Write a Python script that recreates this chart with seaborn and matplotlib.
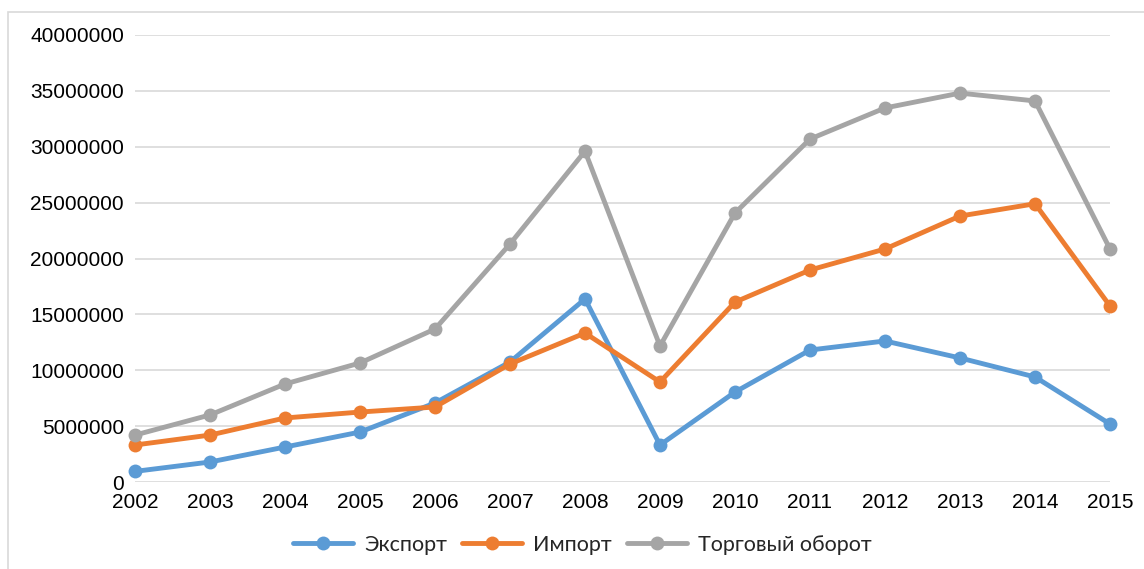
import matplotlib
matplotlib.use('Agg')
import matplotlib.pyplot as plt
import seaborn as sns
import pandas as pd
from matplotlib.patches import Rectangle
from matplotlib.ticker import MultipleLocator

# Values
years = [2002, 2003, 2004, 2005, 2006, 2007, 2008, 2009, 2010, 2011, 2012, 2013, 2014, 2015]
export_vals = [950000, 1790000, 3130000, 4470000, 7070000, 10740000, 16380000,
               3310000, 8050000, 11810000, 12620000, 11100000, 9400000, 5190000]
import_vals = [3310000, 4200000, 5730000, 6260000, 6710000, 10560000, 13330000,
               8950000, 16100000, 18970000, 20850000, 23800000, 24900000, 15750000]
total_vals = [4200000, 6000000, 8770000, 10650000, 13690000, 21300000, 29600000,
              12170000, 24070000, 30690000, 33470000, 34800000, 34100000, 20850000]
series_names = ['Экспорт', 'Импорт', 'Торговый оборот']
colors = ['#5B9BD5', '#ED7D31', '#A5A5A5']

# Long format for seaborn
df = pd.DataFrame({
    'year': years * 3,
    'value': export_vals + import_vals + total_vals,
    'series': [series_names[0]] * len(years) + [series_names[1]] * len(years) + [series_names[2]] * len(years),
})

sns.set_style('white')
plt.rcParams['font.family'] = ['Liberation Sans', 'DejaVu Sans']

fig = plt.figure(figsize=(11.44, 5.69), dpi=100)
ax = fig.add_axes([135 / 1144, 1 - 482 / 569, (1110 - 135) / 1144, (482 - 35) / 569])

sns.lineplot(data=df, x='year', y='value', hue='series', hue_order=series_names,
             palette=colors, marker='o', markersize=10, markeredgewidth=0,
             linewidth=3.5, ax=ax, clip_on=False)

ax.set_xlim(2002, 2015)
ax.set_ylim(0, 40000000)
ax.yaxis.set_major_locator(MultipleLocator(5000000))
ax.set_xticks(years)
ax.set_xticklabels([str(y) for y in years])
ax.yaxis.set_major_formatter(matplotlib.ticker.FuncFormatter(lambda v, p: f'{int(v)}'))
ax.grid(True, axis='y', color='#D9D9D9', linewidth=1.2)
ax.set_axisbelow(True)
for s in ax.spines.values():
    s.set_visible(False)
ax.tick_params(axis='both', length=0, labelsize=15, colors='#000000')
ax.tick_params(axis='x', pad=8)
ax.tick_params(axis='y', pad=8)
ax.set_xlabel('')
ax.set_ylabel('')

handles, labels = ax.get_legend_handles_labels()
ax.get_legend().remove()
fig.legend(handles, labels, loc='center', bbox_to_anchor=(582 / 1144, 1 - 545 / 569),
           ncol=3, frameon=False, handlelength=2.8, columnspacing=0.7, handletextpad=0.5,
           prop={'family': ['Lato', 'DejaVu Sans'], 'size': 15.5})

# light chart border like the Excel chart area
fig.patches.append(Rectangle((8 / 1144, -0.05), 1.1, 1 - 12 / 569 + 0.05,
                             transform=fig.transFigure, fill=False,
                             edgecolor='#D9D9D9', linewidth=1.2))

fig.savefig('out.png', dpi=100)
